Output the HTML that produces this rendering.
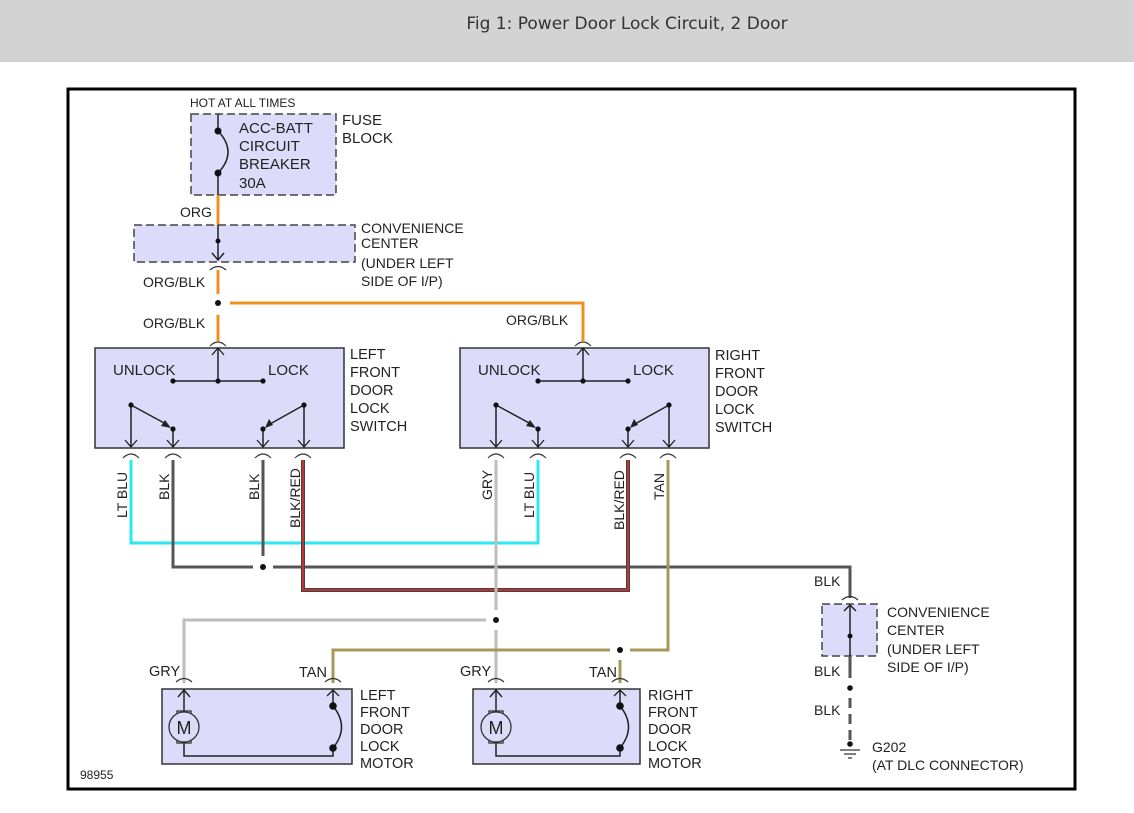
<!DOCTYPE html>
<html><head><meta charset="utf-8"><style>
html,body{margin:0;padding:0;background:#fff;}
svg{display:block;font-family:"Liberation Sans",Arial,sans-serif;}
</style></head><body>
<svg width="1134" height="813" viewBox="0 0 1134 813" xmlns="http://www.w3.org/2000/svg">
<defs>
<g id="sw">
 <rect x="95" y="348" width="249" height="100" fill="#dcdcfa" stroke="#333" stroke-width="1.5"/>
 <path d="M218 348 V381 M173 381 H263 M131 405 V446 M173 429 V446 M263 429 V446 M304 405 V446" stroke="#222" stroke-width="1.5" fill="none"/>
 <path d="M212 355 L218 348 L224 355 M125 440 L131 447 L137 440 M167 440 L173 447 L179 440 M257 440 L263 447 L269 440 M298 440 L304 447 L310 440" stroke="#222" stroke-width="1.3" fill="none"/>
 <path d="M131 405 L166 424 M304 405 L270 424" stroke="#222" stroke-width="1.5"/>
 <path d="M171 428 L161 426 L165 420 Z M265 428 L269 419 L273 425 Z" fill="#222"/>
 <g fill="#111"><circle cx="173" cy="381" r="2.6"/><circle cx="218" cy="381" r="2.6"/><circle cx="263" cy="381" r="2.6"/><circle cx="131" cy="405" r="2.6"/><circle cx="173" cy="429" r="2.6"/><circle cx="263" cy="429" r="2.6"/><circle cx="304" cy="405" r="2.6"/></g>
 <text x="113" y="375" font-size="15" fill="#222">UNLOCK</text>
 <text x="268" y="375" font-size="15" fill="#222">LOCK</text>
 <path d="M210 346 Q218 338 226 346 M123 458 Q131 450 139 458 M165 458 Q173 450 181 458 M255 458 Q263 450 271 458 M295 458 Q303 450 311 458" stroke="#333" stroke-width="1.2" fill="none"/>
</g>
</defs>
<rect x="0" y="0" width="1134" height="62" fill="#d3d3d3"/>
<text x="627" y="29" font-size="17" fill="#333" text-anchor="middle" font-family="DejaVu Sans, Liberation Sans, sans-serif">Fig 1: Power Door Lock Circuit, 2 Door</text>
<rect x="68" y="89" width="1007" height="700" fill="#fff" stroke="#000" stroke-width="3"/>

<text x="190" y="107" font-size="12" fill="#222">HOT AT ALL TIMES</text>
<rect x="191" y="114" width="145" height="81" fill="#dcdcfa" stroke="#444" stroke-width="1.5" stroke-dasharray="8,4"/>
<path d="M218 114 V131 M218 173 V195" stroke="#222" stroke-width="1.5"/>
<path d="M218 131 Q238 152 218 173" stroke="#222" stroke-width="1.5" fill="none"/>
<circle cx="218" cy="131" r="3.5" fill="#111"/><circle cx="218" cy="173" r="3.5" fill="#111"/>
<g font-size="15" fill="#222"><text x="239" y="133">ACC-BATT</text><text x="239" y="151">CIRCUIT</text><text x="239" y="169">BREAKER</text><text x="239" y="188">30A</text>
<text x="342" y="125">FUSE</text><text x="342" y="143">BLOCK</text></g>
<path d="M218 195 V225" stroke="#f0901c" stroke-width="3"/>
<text x="180" y="217" font-size="14" fill="#222">ORG</text>
<rect x="134" y="225" width="221" height="37" fill="#dcdcfa" stroke="#444" stroke-width="1.5" stroke-dasharray="8,4"/>
<path d="M218 225 V259 M212 253 L218 260 L224 253" stroke="#222" stroke-width="1.5" fill="none"/>
<circle cx="218" cy="241" r="2.5" fill="#111"/>
<path d="M210 270 Q218 263 226 270" stroke="#333" stroke-width="1.2" fill="none"/>
<g font-size="14" fill="#222"><text x="361" y="233">CONVENIENCE</text><text x="361" y="248">CENTER</text><text x="361" y="268">(UNDER LEFT</text><text x="361" y="286">SIDE OF I/P)</text></g>
<path d="M218 270 V294 M218 315 V341" stroke="#f0901c" stroke-width="3"/>
<path d="M230 303 H583 V341" stroke="#f0901c" stroke-width="3" fill="none"/>
<circle cx="218" cy="303" r="3" fill="#111"/>
<g font-size="14" fill="#222"><text x="143" y="287">ORG/BLK</text><text x="143" y="328">ORG/BLK</text><text x="506" y="325">ORG/BLK</text></g>

<path d="M131 460 V543 H538 V460" stroke="#2ee8f0" stroke-width="3" fill="none"/>
<path d="M173 460 V567 H253 M273 567 H850 V598" stroke="#555" stroke-width="3" fill="none"/>
<path d="M263 460 V556" stroke="#555" stroke-width="3"/>
<circle cx="263" cy="567" r="3" fill="#111"/>
<path d="M303 460 V590 H628 V460" stroke="#444" stroke-width="4" fill="none"/>
<path d="M303 460 V590 H628 V460" stroke="#e03030" stroke-width="1.6" fill="none"/>
<path d="M496 460 V610 M496 630 V683" stroke="#bdbdbd" stroke-width="3"/>
<path d="M486 620 H184 V683" stroke="#bdbdbd" stroke-width="3" fill="none"/>
<circle cx="496" cy="620" r="3" fill="#111"/>
<path d="M668 460 V650 H630 M610 650 H333 V683 M620 660 V683" stroke="#a89858" stroke-width="3" fill="none"/>
<circle cx="620" cy="650" r="3" fill="#111"/>

<use href="#sw"/>
<use href="#sw" transform="translate(365,0)"/>
<g font-size="14.5" fill="#222">
<text x="350" y="359">LEFT</text><text x="350" y="377">FRONT</text><text x="350" y="395">DOOR</text><text x="350" y="413">LOCK</text><text x="350" y="431">SWITCH</text>
<text x="715" y="360">RIGHT</text><text x="715" y="378">FRONT</text><text x="715" y="396">DOOR</text><text x="715" y="414">LOCK</text><text x="715" y="432">SWITCH</text>
</g>
<g font-size="14" fill="#222">
<text transform="translate(127,518) rotate(-90)">LT BLU</text>
<text transform="translate(169,500) rotate(-90)">BLK</text>
<text transform="translate(259,500) rotate(-90)">BLK</text>
<text transform="translate(300,528) rotate(-90)">BLK/RED</text>
<text transform="translate(492,500) rotate(-90)">GRY</text>
<text transform="translate(534,518) rotate(-90)">LT BLU</text>
<text transform="translate(624,530) rotate(-90)">BLK/RED</text>
<text transform="translate(664,500) rotate(-90)">TAN</text>
</g>

<rect x="162" y="689" width="190" height="75" fill="#dcdcfa" stroke="#333" stroke-width="1.5"/>
<path d="M176 682 Q184 675 192 682 M325 682 Q333 675 341 682" stroke="#333" stroke-width="1.2" fill="none"/>
<path d="M184 690 V711 M178 697 L184 690 L190 697 M333 690 V706 M333 748 V756 H184 V743" stroke="#222" stroke-width="1.5" fill="none"/>
<rect x="177" y="711" width="14" height="32" fill="none" stroke="#333" stroke-width="1.3"/>
<circle cx="184" cy="727" r="15" fill="#dcdcfa" stroke="#333" stroke-width="1.3"/>
<text x="184" y="734" font-size="18" text-anchor="middle" fill="#222">M</text>
<path d="M327 696 L333 690 L339 696" stroke="#222" stroke-width="1.3" fill="none"/>
<path d="M333 706 Q350 727 333 748" stroke="#222" stroke-width="1.5" fill="none"/>
<circle cx="333" cy="706" r="3.8" fill="#111"/><circle cx="333" cy="748" r="3.8" fill="#111"/>

<rect x="473" y="689" width="167" height="75" fill="#dcdcfa" stroke="#333" stroke-width="1.5"/>
<path d="M488 682 Q496 675 504 682 M612 682 Q620 675 628 682" stroke="#333" stroke-width="1.2" fill="none"/>
<path d="M496 690 V711 M490 697 L496 690 L502 697 M620 690 V706 M620 748 V756 H496 V743" stroke="#222" stroke-width="1.5" fill="none"/>
<rect x="489" y="711" width="14" height="32" fill="none" stroke="#333" stroke-width="1.3"/>
<circle cx="496" cy="727" r="15" fill="#dcdcfa" stroke="#333" stroke-width="1.3"/>
<text x="496" y="734" font-size="18" text-anchor="middle" fill="#222">M</text>
<path d="M614 696 L620 690 L626 696" stroke="#222" stroke-width="1.3" fill="none"/>
<path d="M620 706 Q637 727 620 748" stroke="#222" stroke-width="1.5" fill="none"/>
<circle cx="620" cy="706" r="3.8" fill="#111"/><circle cx="620" cy="748" r="3.8" fill="#111"/>
<g font-size="14.5" fill="#222">
<text x="149" y="676">GRY</text><text x="299" y="677">TAN</text><text x="460" y="676">GRY</text><text x="589" y="677">TAN</text>
<text x="360" y="700">LEFT</text><text x="360" y="717">FRONT</text><text x="360" y="734">DOOR</text><text x="360" y="751">LOCK</text><text x="360" y="768">MOTOR</text>
<text x="648" y="700">RIGHT</text><text x="648" y="717">FRONT</text><text x="648" y="734">DOOR</text><text x="648" y="751">LOCK</text><text x="648" y="768">MOTOR</text>
</g>

<path d="M842 600 Q850 593 858 600" stroke="#333" stroke-width="1.2" fill="none"/>
<rect x="822" y="604" width="55" height="52" fill="#dcdcfa" stroke="#444" stroke-width="1.5" stroke-dasharray="8,4"/>
<path d="M850 605 V656 M844 611 L850 605 L856 611" stroke="#222" stroke-width="1.5" fill="none"/>
<circle cx="850" cy="636" r="2.5" fill="#111"/>
<path d="M850 656 V678" stroke="#555" stroke-width="3"/>
<circle cx="850" cy="688" r="2.8" fill="#111"/>
<path d="M850 698 V740" stroke="#555" stroke-width="3" stroke-dasharray="10,6"/>
<circle cx="850" cy="744" r="2.8" fill="#111"/>
<path d="M840 750 H860 M844 754 H856 M848 758 H852" stroke="#333" stroke-width="1.3"/>
<g font-size="14" fill="#222">
<text x="814" y="586">BLK</text><text x="814" y="676">BLK</text><text x="814" y="715">BLK</text>
<text x="887" y="617">CONVENIENCE</text><text x="887" y="635">CENTER</text><text x="887" y="654">(UNDER LEFT</text><text x="887" y="672">SIDE OF I/P)</text>
<text x="872" y="752">G202</text><text x="872" y="770">(AT DLC CONNECTOR)</text>
</g>
<text x="80" y="779" font-size="12" fill="#222">98955</text>
</svg>
</body></html>
